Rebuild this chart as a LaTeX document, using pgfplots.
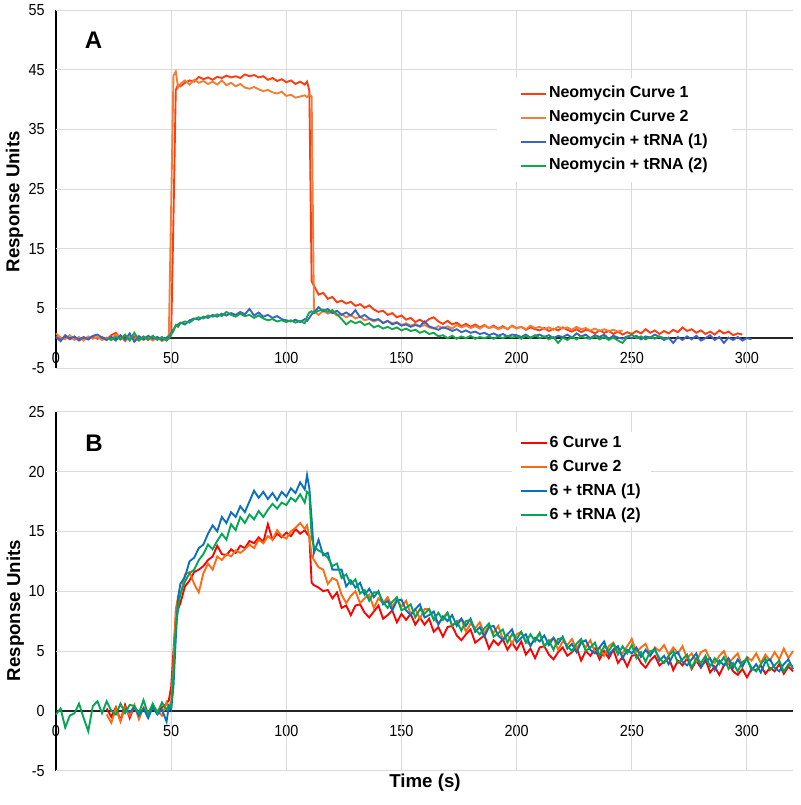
\documentclass[border=0pt]{standalone}
\usepackage{pgfplots}
\pgfplotsset{compat=1.18}
\usepackage{pgfplotstable}
\usepackage{fontspec}
\setmainfont{Liberation Sans}
\newfontfamily\tickfont[FakeStretch=0.9]{Liberation Sans}

\definecolor{tR}{HTML}{FF3B0F}
\definecolor{tO}{HTML}{F07F35}
\definecolor{tB}{HTML}{3A62C8}
\definecolor{tG}{HTML}{12A84A}
\definecolor{bR}{HTML}{FF0000}
\definecolor{bO}{HTML}{FF6A10}
\definecolor{bB}{HTML}{0B6FC1}
\definecolor{bG}{HTML}{00A652}
\definecolor{gridc}{HTML}{DADADA}

\pgfplotstableread{
t r o b g
0 0.3 0.8 0.2 nan
2 -0.3 0.1 -0.5 nan
4 0.4 -0.2 0.5 nan
6 -0.2 0.5 -0.1 nan
8 0.2 -0.3 0.3 nan
10 -0.4 0.2 -0.3 nan
12 0.1 -0.4 0.2 nan
14 -0.2 0.3 -0.2 nan
16 0.3 -0.1 0.4 nan
18 -0.1 0.2 0.6 nan
20 0.2 -0.3 0.1 nan
22 -0.3 0.1 -0.3 0.0
24 0.5 -0.2 0.2 -0.3
26 0.9 0.6 -0.4 0.2
28 -0.2 0.3 0.5 -0.2
30 0.4 -0.5 -0.3 0.6
32 -0.1 0.2 0.8 -0.4
34 0.3 -0.2 -0.6 0.9
36 -0.4 0.4 0.3 -0.3
38 0.2 -0.3 -0.2 0.3
40 -0.3 0.1 0.4 -0.2
42 0.3 -0.4 -0.1 0.4
44 -0.2 0.2 0.2 -0.3
46 0.1 -0.5 -0.3 0.2
48 -0.3 0.0 0.1 -0.4
49 -0.1 0.5 0.3 0.0
50 0.5 22.0 0.8 0.6
51 20.0 44.0 1.5 1.2
52 41.6 44.7 2.0 2.2
53 42.5 42.0 2.3 1.9
54 42.2 42.6 2.6 2.5
56 42.8 43.2 2.3 2.8
58 43.2 42.5 3.0 2.6
60 43.0 43.3 3.3 3.2
62 43.8 42.8 3.1 3.5
64 43.4 43.1 3.6 3.3
66 43.7 42.6 3.4 3.8
68 43.3 43.0 3.9 3.6
70 43.8 42.5 3.6 4.0
72 43.6 43.2 4.1 3.7
74 44.0 42.4 3.8 4.4
76 43.7 42.8 4.2 3.9
78 43.9 42.2 3.9 3.6
80 43.6 42.6 4.4 4.1
82 44.2 42.0 4.0 3.7
84 43.9 41.8 4.9 3.9
86 44.1 42.1 3.8 3.4
88 43.7 41.7 4.3 3.8
90 43.9 41.4 3.6 3.3
92 43.3 41.6 3.9 3.0
94 43.6 41.2 3.4 3.2
96 43.1 41.0 3.7 2.8
98 43.4 41.3 3.2 3.0
100 42.9 40.6 3.0 2.7
102 43.2 40.8 2.8 3.0
104 42.6 40.3 3.1 2.6
106 43.0 40.5 2.7 2.9
108 42.5 40.7 3.2 2.5
109 43.0 40.4 2.9 3.6
110 41.5 40.8 3.4 4.3
111 9.5 40.5 4.0 4.5
112 8.8 4.5 4.3 4.2
114 7.3 3.9 5.2 4.6
116 7.6 4.6 4.5 4.8
118 6.6 4.1 4.9 4.4
120 6.9 4.4 4.2 4.7
122 6.0 3.8 4.6 4.0
124 6.3 4.0 3.9 3.2
126 5.8 3.5 4.3 2.3
128 6.1 3.9 3.8 2.9
130 5.4 3.3 4.7 2.5
132 5.7 3.6 3.5 2.8
134 5.1 3.0 3.9 2.2
136 5.5 3.2 3.3 2.5
138 4.8 2.8 3.0 1.8
140 4.4 3.1 3.2 2.1
142 4.6 2.6 2.5 1.6
144 3.9 2.9 2.9 1.9
146 4.2 2.5 2.3 1.5
148 3.5 2.7 2.6 1.8
150 3.8 2.2 2.1 1.3
152 3.1 2.5 2.3 1.6
154 3.4 2.1 1.9 1.2
156 2.7 2.4 2.2 1.4
158 3.1 1.9 2.0 0.9
160 2.6 2.2 2.8 1.2
162 3.2 1.8 2.0 0.7
164 3.5 1.6 1.7 0.9
166 2.8 2.0 1.4 0.3
168 2.4 1.7 1.8 0.5
170 2.9 2.0 1.6 0.0
172 2.3 1.6 1.2 0.4
174 2.6 2.2 1.5 -0.1
176 2.0 1.8 1.0 0.3
178 2.4 2.1 1.3 0.0
180 1.9 1.7 0.9 0.4
182 2.3 2.0 1.1 -0.1
184 1.8 1.6 0.7 0.2
186 2.2 2.1 0.9 0.0
188 1.7 1.7 0.5 0.3
190 2.1 1.9 0.8 -0.1
192 1.6 1.5 0.4 0.3
194 2.0 1.8 0.7 0.0
196 1.5 1.6 0.3 0.4
198 2.1 2.0 0.6 0.1
200 1.7 1.6 0.5 0.3
202 1.9 1.9 0.2 -0.1
204 1.4 1.5 0.6 0.4
206 1.8 2.1 0.1 0.0
208 1.5 1.7 0.4 0.5
210 1.3 1.9 0.6 0.0
212 1.7 1.5 0.2 0.3
214 1.2 1.8 0.5 -0.2
216 1.6 1.4 0.0 0.2
218 1.3 1.9 0.4 -0.8
220 1.8 1.6 0.2 0.1
222 1.4 1.8 0.6 -0.3
224 1.1 1.4 0.1 0.2
226 1.5 1.9 0.8 -0.2
228 1.0 1.5 0.3 0.3
230 1.4 1.7 0.6 0.0
232 1.2 1.3 0.0 -0.1
234 0.8 1.6 0.5 0.3
236 1.3 1.2 0.2 -0.2
238 0.9 1.5 0.6 0.2
240 1.2 1.2 -0.1 -0.3
242 0.7 1.4 0.4 0.1
244 1.1 1.1 0.1 -0.4
246 0.6 1.3 -0.1 -0.8
248 1.0 nan 0.3 0.2
250 0.7 nan 0.0 0.6
252 1.2 nan 0.4 0.0
254 0.8 nan -0.2 0.3
256 1.5 nan 0.3 -0.2
258 0.9 nan 0.1 0.2
260 1.3 nan 0.6 -0.1
262 0.7 nan 0.2 0.3
264 1.2 nan -0.3 0.0
266 0.8 nan 0.1 -0.1
268 1.4 nan -0.8 nan
270 1.0 nan 0.2 nan
272 1.8 nan -0.3 nan
274 1.2 nan 0.3 nan
276 1.5 nan -0.2 nan
278 0.9 nan 0.4 nan
280 1.3 nan -0.4 nan
282 0.7 nan 0.0 nan
284 1.1 nan 0.5 nan
286 0.6 nan -0.3 nan
288 1.3 nan 0.2 nan
290 0.8 nan -0.8 nan
292 1.1 nan 0.1 nan
294 0.5 nan -0.3 nan
296 0.8 nan 0.2 nan
298 0.6 nan -0.4 nan
300 nan nan 0.0 nan
302 nan nan -0.2 nan
}\dataA

\pgfplotstableread{
t r o b g
0 nan nan nan -0.3
2 nan nan nan 0.2
4 nan nan nan -1.4
6 nan nan nan -0.4
8 nan nan nan -0.2
10 nan nan nan 0.6
12 nan nan nan -0.6
14 nan nan nan -1.7
16 nan nan nan 0.4
18 nan nan nan 0.8
20 nan nan nan -0.2
22 0.2 -0.3 nan 0.8
24 -0.5 -1.0 nan 0.0
26 0.3 0.2 nan -0.3
28 -0.8 -0.9 nan 0.6
30 0.5 0.3 0.2 -0.2
32 -0.6 -0.4 -0.1 0.5
34 0.4 0.5 0.3 0.4
36 -0.3 -0.7 -0.4 -0.2
38 0.2 0.3 0.2 0.9
40 -0.2 -0.2 -0.6 -0.3
42 0.5 0.4 0.3 0.6
44 -0.1 0.0 -0.3 -0.2
46 0.3 -0.4 0.1 0.7
48 0.6 0.7 -0.9 0.1
49 0.9 0.2 0.4 0.4
50 2.0 0.8 0.1 0.3
51 5.0 4.0 2.0 3.0
52 7.8 8.5 6.0 7.0
53 8.5 9.5 9.5 8.5
54 9.0 9.6 10.6 9.8
56 10.4 11.4 11.2 10.8
58 10.9 11.6 12.5 11.5
60 11.6 10.6 12.8 11.8
62 11.8 9.9 13.6 12.6
64 12.1 11.5 13.9 13.1
66 12.6 12.3 14.8 13.9
68 12.9 11.8 15.5 13.5
70 13.8 12.9 15.0 14.2
72 13.1 12.6 16.2 14.8
74 13.0 13.1 15.7 14.3
76 13.5 12.9 16.6 15.6
78 13.2 13.4 16.2 15.1
80 13.8 13.2 17.1 16.2
82 13.6 13.5 16.6 15.7
84 14.2 13.9 17.5 16.4
86 14.0 13.6 18.4 16.0
88 14.5 14.3 17.8 16.7
90 14.1 14.0 18.3 16.2
92 15.6 14.6 17.7 16.8
94 14.3 14.3 18.2 17.3
96 14.8 15.1 17.6 16.9
98 14.5 14.6 18.3 17.4
100 14.9 14.4 17.9 17.2
102 14.6 15.0 18.6 17.8
104 15.2 15.3 18.2 17.5
106 14.8 15.7 19.1 18.1
108 15.1 15.2 18.5 17.4
109 14.8 15.5 19.7 18.3
110 14.6 14.5 18.6 18.1
111 10.7 13.0 16.0 14.5
112 10.5 12.6 13.2 13.7
114 10.3 12.0 14.3 13.4
116 10.0 11.8 13.0 13.2
118 10.1 10.6 13.2 12.8
120 9.4 11.1 11.8 12.1
122 9.9 10.9 11.8 12.3
124 8.6 9.7 11.8 11.1
126 8.8 9.0 10.4 11.4
128 8.0 9.6 10.9 10.6
130 8.8 10.0 10.3 11.0
132 8.9 9.0 10.7 9.8
134 8.2 9.4 9.7 10.1
136 7.8 9.7 10.2 9.2
138 8.3 8.6 9.5 9.9
140 8.8 9.4 10.0 9.9
142 7.7 9.0 8.9 9.1
144 8.0 9.5 9.2 8.6
146 8.4 8.7 8.4 9.1
148 7.4 9.3 9.2 9.5
150 8.1 8.7 9.3 8.4
152 7.6 9.2 8.4 8.6
154 8.1 8.1 8.0 8.9
156 7.2 8.5 8.5 7.8
158 7.8 7.7 8.9 8.5
160 7.2 8.5 7.8 8.1
162 7.7 8.5 8.0 8.5
164 6.6 7.7 8.3 7.6
166 7.0 7.3 7.2 8.2
168 6.2 7.8 7.9 7.6
170 7.0 8.2 7.5 8.2
172 7.1 7.1 8.0 7.1
174 6.3 7.4 7.1 7.5
176 5.9 7.7 7.7 6.7
178 6.4 6.6 7.1 7.5
180 6.8 7.3 7.7 7.6
182 5.7 6.9 6.6 6.8
184 6.0 7.4 7.0 6.4
186 6.3 6.5 6.2 6.9
188 5.2 7.1 7.0 7.3
190 5.9 6.5 7.1 6.2
192 5.5 7.1 6.3 6.5
194 6.0 6.0 5.9 6.8
196 5.1 6.4 6.4 5.7
198 5.7 5.6 6.8 6.4
200 5.1 6.4 5.7 6.0
202 5.8 6.6 6.1 6.6
204 4.7 5.8 6.4 5.7
206 5.2 5.5 5.4 6.4
208 4.4 6.0 6.1 5.8
210 5.3 6.5 5.8 6.5
212 5.4 5.4 6.3 5.4
214 4.7 5.8 5.5 5.9
216 4.3 6.1 6.1 5.1
218 4.9 5.1 5.6 6.0
220 5.3 5.8 6.2 6.1
222 4.6 5.5 5.2 5.4
224 4.9 6.0 5.6 5.0
226 5.3 5.2 4.9 5.6
228 4.2 5.8 5.7 6.0
230 5.0 5.3 5.9 5.0
232 4.6 5.9 5.1 5.3
234 5.2 4.9 4.8 5.7
236 4.3 5.3 5.3 4.6
238 5.0 4.6 5.8 5.4
240 4.4 5.4 4.7 5.0
242 5.1 5.7 5.1 5.6
244 4.0 5.0 5.4 4.7
246 4.5 4.8 4.4 5.4
248 3.7 5.4 5.1 4.8
250 4.6 6.0 4.8 5.5
252 4.7 4.9 5.3 4.4
254 4.0 5.3 4.5 4.9
256 3.6 5.6 5.1 4.1
258 4.2 4.6 4.6 5.0
260 4.6 5.3 5.2 5.1
262 3.8 5.0 4.2 4.4
264 4.1 5.5 4.6 4.0
266 4.5 4.7 3.9 4.6
268 3.4 5.3 4.7 5.0
270 4.2 4.8 4.9 4.0
272 3.8 5.4 4.1 4.3
274 4.4 4.4 3.8 4.7
276 3.5 4.8 4.3 3.6
278 4.2 4.1 4.8 4.4
280 3.6 4.9 3.7 4.0
282 4.3 5.1 4.1 4.6
284 3.2 4.3 4.4 3.7
286 3.7 4.0 3.4 4.4
288 3.0 4.6 4.2 3.9
290 3.8 5.0 3.8 4.5
292 4.0 4.0 4.4 3.5
294 3.3 4.4 3.6 4.0
296 3.0 4.8 4.3 3.3
298 3.5 3.7 3.7 4.1
300 2.8 4.5 4.4 4.3
302 3.5 4.2 3.4 3.6
304 3.4 4.8 3.9 3.3
306 3.8 4.0 3.2 3.9
308 3.1 4.7 4.1 4.4
310 3.6 4.2 4.3 3.4
312 3.3 4.9 3.6 3.8
314 3.9 4.3 3.3 4.2
316 3.1 5.2 3.9 3.3
318 3.7 4.4 4.3 3.9
320 3.3 5.0 3.5 3.7
}\dataB

\pgfplotsset{panel/.style={
  scale only axis, width=552.75pt,
  xmin=0, xmax=320, xtick={0,50,100,150,200,250,300},
  axis x line*=bottom, axis y line*=left,
  x axis line style={draw=none},
  y axis line style={draw=black, line width=1pt},
  major tick length=0pt,
  clip=false,
  tick label style={font=\tickfont\fontsize{12}{14}\selectfont},
  /pgf/number format/assume math mode=true,
  yticklabel style={xshift=-5pt},
  every axis plot/.append style={line width=1.4pt, mark=none},
  legend cell align=left,
  legend image code/.code={\draw[##1, line width=1.5pt] (0pt,0pt) -- (19pt,0pt);},
}}

\begin{document}
\begin{tikzpicture}
\path[use as bounding box] (0pt,0pt) rectangle (600pt,-603.75pt);

\begin{axis}[panel,
  at={(42pt,-276pt)}, anchor=south west, height=268.5pt,
  ymin=-5, ymax=55, ytick={-5,5,15,25,35,45,55},
  xticklabel style={yshift=15.5pt},
  legend style={at={(0.598,0.812)}, anchor=north west, draw=none, fill=white,
    font=\bfseries\fontsize{12}{14}\selectfont, inner xsep=17pt, inner ysep=6.5pt,
    row sep=7pt, nodes={inner xsep=1.5pt, inner ysep=0pt, text height=8.6pt, text depth=2.4pt}},
]
\pgfplotsinvokeforeach{50,100,150,200,250,300}{\draw[gridc, line width=0.75pt] (axis cs:#1,-5) -- (axis cs:#1,55);}
\pgfplotsinvokeforeach{-5,5,15,25,35,45,55}{\draw[gridc, line width=0.75pt] (axis cs:0,#1) -- (axis cs:320,#1);}
\draw[draw=black!85, line width=1.5pt] (axis cs:0,0) -- (axis cs:320,0);
\addplot[color=tR] table[x=t, y=r]{\dataA};
\addplot[color=tO] table[x=t, y=o]{\dataA};
\addplot[color=tB] table[x=t, y=b]{\dataA};
\addplot[color=tG] table[x=t, y=g]{\dataA};
\legend{Neomycin Curve 1, Neomycin Curve 2, Neomycin + tRNA (1), Neomycin + tRNA (2)}
\end{axis}

\begin{axis}[panel,
  at={(42pt,-578pt)}, anchor=south west, height=269.25pt,
  ymin=-5, ymax=25, ytick={-5,0,...,25},
  xticklabel style={yshift=37.5pt},
  legend style={at={(0.6187,0.944)}, anchor=north west, draw=none, fill=white,
    font=\bfseries\fontsize{12}{14}\selectfont, inner xsep=6pt, inner ysep=3pt,
    row sep=7pt, nodes={inner xsep=1.5pt, inner ysep=0pt, text height=8.6pt, text depth=2.4pt}},
]
\pgfplotsinvokeforeach{50,100,150,200,250,300}{\draw[gridc, line width=0.75pt] (axis cs:#1,-5) -- (axis cs:#1,25);}
\pgfplotsinvokeforeach{-5,0,5,10,15,20,25}{\draw[gridc, line width=0.75pt] (axis cs:0,#1) -- (axis cs:320,#1);}
\draw[draw=black!85, line width=1.5pt] (axis cs:0,0) -- (axis cs:320,0);
\addplot[color=bR] table[x=t, y=r]{\dataB};
\addplot[color=bO] table[x=t, y=o]{\dataB};
\addplot[color=bB] table[x=t, y=b]{\dataB};
\addplot[color=bG] table[x=t, y=g]{\dataB};
\legend{6 Curve 1, 6 Curve 2, 6 + tRNA (1), 6 + tRNA (2)}
\end{axis}

\node[font=\bfseries\fontsize{18}{20}\selectfont] at (70.1pt,-30pt) {A};
\node[font=\bfseries\fontsize{18}{20}\selectfont] at (70.5pt,-332.6pt) {B};
\node[rotate=90, anchor=base, font=\bfseries\fontsize{14}{16}\selectfont] at (14.6pt,-151.3pt) {Response Units};
\node[rotate=90, anchor=base, font=\bfseries\fontsize{14}{16}\selectfont] at (15pt,-457.9pt) {Response Units};
\node[font=\bfseries\fontsize{14}{16}\selectfont] at (318.75pt,-587.25pt) {Time (s)};
\end{tikzpicture}
\end{document}
